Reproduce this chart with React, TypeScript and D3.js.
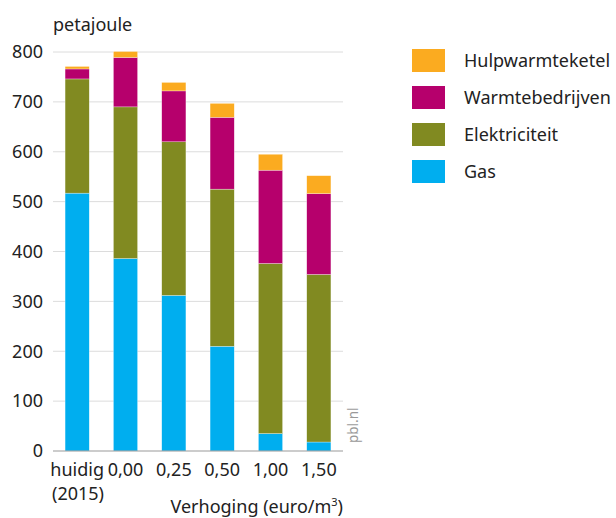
import React from "react";
import * as d3 from "d3";

const categories = ["huidig", "0,00", "0,25", "0,50", "1,00", "1,50"];
const gas = [517, 386, 312, 210, 35, 18];
const elektriciteit = [229, 304, 308, 315, 341, 336];
const warmtebedrijven = [20, 99, 102, 144, 187, 162];
const hulpwarmteketel = [5, 12, 17, 28, 32, 36];
const yTicks = [0, 100, 200, 300, 400, 500, 600, 700, 800];

const seriesNames = ["Gas", "Elektriciteit", "Warmtebedrijven", "Hulpwarmteketel"];
const colors: Record<string, string> = {
  Gas: "#00aeef",
  Elektriciteit: "#818a21",
  Warmtebedrijven: "#b6006c",
  Hulpwarmteketel: "#fbab20",
};

const FONT = "'Noto Sans', 'Open Sans', sans-serif";

export default function App() {
  const W = 616, H = 518;
  const left = 53, right = 343, top = 52, bottom = 451;

  const rows = categories.map((c, i) => ({
    cat: c,
    Gas: gas[i],
    Elektriciteit: elektriciteit[i],
    Warmtebedrijven: warmtebedrijven[i],
    Hulpwarmteketel: hulpwarmteketel[i],
  }));
  const stack = d3.stack<any>().keys(seriesNames)(rows);

  const x = d3.scaleBand().domain(categories).range([left, right]).paddingInner(0.5).paddingOuter(0.25);
  const y = d3.scaleLinear().domain([0, 800]).range([bottom, top]);

  const legendOrder = ["Hulpwarmteketel", "Warmtebedrijven", "Elektriciteit", "Gas"];

  return (
    <svg width={W} height={H} style={{ position: "absolute", left: 0, top: 0, background: "#fff" }} fontFamily={FONT}>
      <text x={53} y={31} fontSize={18} fill="#222">petajoule</text>
      {yTicks.map((t) => (
        <g key={t}>
          {t > 0 && <line x1={left} x2={right} y1={y(t)} y2={y(t)} stroke="#dcdcdc" strokeWidth={1} />}
          <text x={43} y={y(t)} dy="0.35em" textAnchor="end" fontSize={18} fill="#222">{t}</text>
        </g>
      ))}
      {stack.map((s) => (
        <g key={s.key} fill={colors[s.key]}>
          {s.map((d: any, i: number) => (
            <rect
              key={i}
              x={x(categories[i])!}
              width={x.bandwidth()}
              y={y(d[1])}
              height={y(d[0]) - y(d[1])}
              stroke="#ffffff"
              strokeOpacity={0.6}
              strokeWidth={0.5}
            />
          ))}
        </g>
      ))}
      <line x1={left} x2={right} y1={bottom} y2={bottom} stroke="#999" strokeWidth={1} />
      {categories.map((c) => (
        <text key={c} x={x(c)! + x.bandwidth() / 2} y={476} textAnchor="middle" fontSize={18} fill="#222">{c}</text>
      ))}
      <text x={52} y={500} fontSize={18} fill="#222">(2015)</text>
      <text x={343} y={513} textAnchor="end" fontSize={18} fill="#222">
        Verhoging (euro/m<tspan dy={-7} fontSize={11}>3</tspan><tspan dy={7}>)</tspan>
      </text>
      <text transform="translate(358,443) rotate(-90)" fontSize={13.5} fill="#999">pbl.nl</text>
      {legendOrder.map((k, i) => (
        <g key={k} transform={`translate(412,${49 + i * 37})`}>
          <rect width={33} height={23} fill={colors[k]} />
          <text x={52} y={11.5} dy="0.35em" fontSize={18} fill="#222">{k}</text>
        </g>
      ))}
    </svg>
  );
}
